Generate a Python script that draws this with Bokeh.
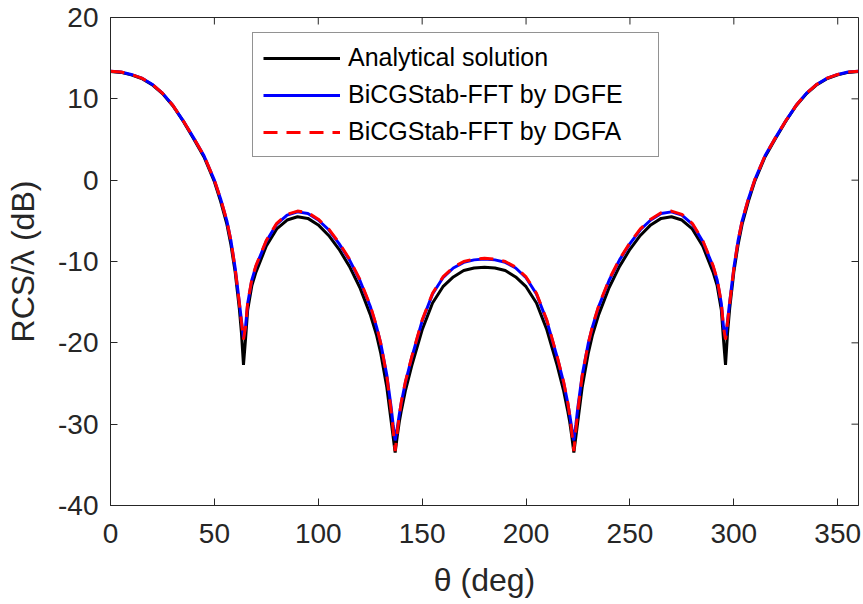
import math
from bokeh.plotting import figure
from bokeh.models import Range1d, FixedTicker, Legend, LegendItem, PrintfTickFormatter
from bokeh.embed import file_html
from bokeh.resources import INLINE

theta = [0, 5, 10, 15, 20, 25, 30, 35, 40, 45, 50, 53, 56, 58, 60, 62, 63, 64, 65, 66, 68, 70,
         75, 80, 85, 90, 95, 100, 105, 110, 115, 120, 125, 128, 130, 133, 135, 136, 137, 138,
         139, 140, 142, 145, 150, 155, 160, 165, 170, 175, 180,
         185, 190, 195, 200, 205, 210, 215, 218, 220, 221, 222, 223, 224, 225, 227, 230, 232,
         235, 240, 245, 250, 255, 260, 265, 270, 275, 280, 285, 290, 292, 294, 295, 296, 297,
         298, 300, 302, 304, 307, 310, 315, 320, 325, 330, 335, 340, 345, 350, 355, 360]

analytical = [13.35, 13.25, 12.95, 12.5, 11.75, 10.65, 9.15, 7.25, 5.1, 2.85, -0.2, -2.6, -5.4,
              -8.0, -11.3, -15.8, -18.7, -22.7, -19.5, -16.0, -13.0, -11.3, -8.1, -6.0, -4.9,
              -4.5, -4.7, -5.5, -6.8, -8.5, -10.6, -13.2, -16.5, -19.0, -21.2, -25.5, -29.5,
              -31.5, -33.5, -31.5, -29.7, -28.3, -25.8, -22.8, -18.4, -15.1, -13.1, -11.9,
              -11.1, -10.8, -10.7,
              -10.8, -11.1, -11.9, -13.1, -15.1, -18.4, -22.8, -25.8, -28.3, -29.7, -31.5,
              -33.5, -31.5, -29.5, -25.5, -21.2, -19.0, -16.5, -13.2, -10.6, -8.5, -6.8, -5.5,
              -4.7, -4.5, -4.9, -6.0, -8.1, -11.3, -13.0, -16.0, -19.5, -22.7, -18.7, -15.8,
              -11.3, -8.0, -5.4, -2.6, -0.2, 2.85, 5.1, 7.25, 9.15, 10.65, 11.75, 12.5, 12.95,
              13.25, 13.35]

dgfe = [13.4, 13.3, 13.0, 12.55, 11.8, 10.7, 9.2, 7.3, 5.2, 3.0, 0.0, -2.3, -5.0, -7.5, -10.8,
        -15.0, -17.2, -19.4, -18.0, -15.2, -12.3, -10.6, -7.5, -5.4, -4.3, -3.9, -4.1, -4.9,
        -6.1, -7.8, -9.8, -12.3, -15.5, -18.0, -20.0, -24.0, -27.8, -30.0, -32.0, -30.5, -28.8,
        -27.3, -24.8, -21.8, -17.3, -14.0, -12.0, -10.8, -10.1, -9.8, -9.7,
        -9.8, -10.1, -10.8, -12.0, -14.0, -17.3, -21.8, -24.8, -27.3, -28.8, -30.5, -32.0,
        -30.0, -27.8, -24.0, -20.0, -18.0, -15.5, -12.3, -9.8, -7.8, -6.1, -4.9, -4.1, -3.9,
        -4.3, -5.4, -7.5, -10.6, -12.3, -15.2, -18.0, -19.4, -17.2, -15.0, -10.8, -7.5, -5.0,
        -2.3, 0.0, 3.0, 5.2, 7.3, 9.2, 10.7, 11.8, 12.55, 13.0, 13.3, 13.4]

dgfa = [13.4, 13.3, 13.0, 12.55, 11.8, 10.7, 9.2, 7.3, 5.2, 3.0, 0.0, -2.3, -5.0, -7.5, -10.9,
        -15.1, -17.4, -19.6, -18.0, -15.1, -12.2, -10.5, -7.4, -5.3, -4.2, -3.8, -4.0, -4.8,
        -6.0, -7.7, -9.7, -12.2, -15.4, -17.9, -20.0, -24.1, -28.2, -30.6, -33.3, -31.0, -28.9,
        -27.2, -24.7, -21.7, -17.2, -13.9, -11.9, -10.7, -10.0, -9.7, -9.6,
        -9.7, -10.0, -10.7, -11.9, -13.9, -17.2, -21.7, -24.7, -27.2, -28.9, -31.0, -33.3,
        -30.6, -28.2, -24.1, -20.0, -17.9, -15.4, -12.2, -9.7, -7.7, -6.0, -4.8, -4.0, -3.8,
        -4.2, -5.3, -7.4, -10.5, -12.2, -15.1, -18.0, -19.6, -17.4, -15.1, -10.9, -7.5, -5.0,
        -2.3, 0.0, 3.0, 5.2, 7.3, 9.2, 10.7, 11.8, 12.55, 13.0, 13.3, 13.4]

x_lim = [0, 360]
y_lim = [-40, 20]
x_ticks = [0, 50, 100, 150, 200, 250, 300, 350]
y_ticks = [-40, -30, -20, -10, 0, 10, 20]
series_names = ["Analytical solution", "BiCGStab-FFT by DGFE", "BiCGStab-FFT by DGFA"]

FONT = "Liberation Sans"
AX = "#262626"

p = figure(width=863, height=604, output_backend="svg", toolbar_location=None,
           x_range=Range1d(*x_lim), y_range=Range1d(*y_lim),
           min_border_left=110, min_border_right=5, min_border_top=17, min_border_bottom=99)
p.xgrid.visible = False
p.ygrid.visible = False
p.outline_line_color = AX
p.outline_line_width = 1
p.background_fill_color = "white"
p.border_fill_color = "white"

for ax, ticks in ((p.xaxis[0], x_ticks), (p.yaxis[0], y_ticks)):
    ax.ticker = FixedTicker(ticks=ticks)
    ax.formatter = PrintfTickFormatter(format="%d")
    ax.major_tick_in = 7
    ax.major_tick_out = 0
    ax.minor_tick_line_color = None
    ax.axis_line_color = AX
    ax.major_tick_line_color = AX
    ax.major_label_text_font = FONT
    ax.major_label_text_color = AX
    ax.major_label_text_font_size = "28px"
    ax.axis_label_text_font = FONT
    ax.axis_label_text_font_size = "32px"
    ax.axis_label_text_font_style = "normal"
    ax.axis_label_text_color = AX

p.xaxis[0].major_label_standoff = 18
p.yaxis[0].major_label_standoff = 12
p.xaxis[0].axis_label = "θ (deg)"
p.yaxis[0].axis_label = "RCS/λ (dB)"
p.xaxis[0].axis_label_standoff = 16
p.yaxis[0].axis_label_standoff = 14

# box ticks on the top and right edges (MATLAB "box on"), clipped to the frame
p.scatter(x=x_ticks, y=[y_lim[1]] * len(x_ticks), marker="dash", angle=math.pi / 2,
          size=14, line_color=AX, line_width=1)
p.scatter(x=[x_lim[1]] * len(y_ticks), y=y_ticks, marker="dash",
          size=14, line_color=AX, line_width=1)

r1 = p.line(theta, analytical, line_color="#000000", line_width=3)
r2 = p.line(theta, dgfe, line_color="#0000FF", line_width=3)
r3 = p.line(theta, dgfa, line_color="#FF0000", line_width=3, line_dash="14 9")

legend = Legend(items=[LegendItem(label=series_names[0], renderers=[r1]),
                       LegendItem(label=series_names[1], renderers=[r2]),
                       LegendItem(label=series_names[2], renderers=[r3])],
                location=(142, 348))
legend.label_text_font = FONT
legend.label_text_font_size = "25px"
legend.label_text_color = "#000000"
legend.glyph_width = 77
legend.glyph_height = 28
legend.label_height = 28
legend.label_width = 300
legend.label_standoff = 8
legend.spacing = 8
legend.padding = 10
legend.margin = 0
legend.border_line_color = AX
legend.border_line_width = 1
legend.background_fill_color = "white"
legend.background_fill_alpha = 1
p.add_layout(legend, "center")

open("out.html", "w").write(file_html(p, INLINE))
